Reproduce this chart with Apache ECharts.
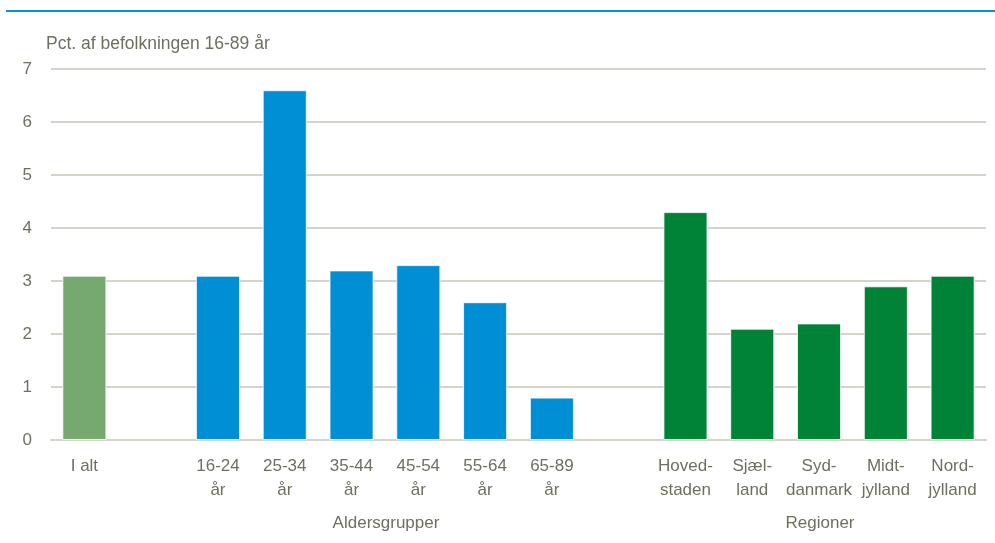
<!DOCTYPE html>
<html>
<head>
<meta charset="utf-8">
<script src="https://cdn.jsdelivr.net/npm/echarts@6/dist/echarts.min.js"></script>
<style>
html,body{margin:0;padding:0;background:#fff;}
#chart{width:995px;height:543px;}
</style>
</head>
<body>
<div id="chart"></div>
<script>
const categories = ['I alt', '', '16-24\når', '25-34\når', '35-44\når', '45-54\når', '55-64\når', '65-89\når', '', 'Hoved-\nstaden', 'Sjæl-\nland', 'Syd-\ndanmark', 'Midt-\njylland', 'Nord-\njylland'];
const values = [3.1, null, 3.1, 6.6, 3.2, 3.3, 2.6, 0.8, null, 4.3, 2.1, 2.2, 2.9, 3.1];
const groups = ['total', null, 'age', 'age', 'age', 'age', 'age', 'age', null, 'region', 'region', 'region', 'region', 'region'];
const groupColors = { total: '#76a96f', age: '#008fd5', region: '#008237' };
const yTicks = [0, 1, 2, 3, 4, 5, 6, 7];
const yTitle = 'Pct. af befolkningen 16-89 år';
const groupTitles = ['Aldersgrupper', 'Regioner'];

const textColor = '#6e6f60';
const font = 'Liberation Sans, Arial, sans-serif';

const chart = echarts.init(document.getElementById('chart'), null, { renderer: 'canvas' });
chart.setOption({
  animation: false,
  grid: { left: 51, right: 9, top: 69, bottom: 103, containLabel: false },
  xAxis: {
    type: 'category',
    data: categories,
    axisLine: { show: true, lineStyle: { color: '#d4d4cb', width: 2 } },
    axisTick: { show: false },
    axisLabel: { color: textColor, fontFamily: font, fontSize: 17, lineHeight: 24, margin: 14, interval: 0 }
  },
  yAxis: {
    type: 'value',
    min: yTicks[0],
    max: yTicks[yTicks.length - 1],
    interval: 1,
    axisLine: { show: false },
    axisTick: { show: false },
    axisLabel: { color: textColor, fontFamily: font, fontSize: 17, margin: 19 },
    splitLine: { lineStyle: { color: '#d4d4cb', width: 2 } }
  },
  series: [{
    type: 'bar',
    barWidth: '66%',
    data: values.map((v, i) => ({
      value: v,
      itemStyle: { color: groups[i] ? groupColors[groups[i]] : 'transparent', borderColor: 'rgba(255,255,255,0.8)', borderWidth: 1 }
    }))
  }],
  graphic: [
    { type: 'rect', shape: { x: 6, y: 10, width: 989, height: 2 }, style: { fill: '#0095d9' } },
    { type: 'text', left: 46, top: 35, style: { text: yTitle, fill: textColor, font: '17.5px ' + font } },
    { type: 'text', x: 386, y: 523, style: { text: groupTitles[0], fill: textColor, font: '17px ' + font, textAlign: 'center', textVerticalAlign: 'middle' } },
    { type: 'text', x: 820, y: 523, style: { text: groupTitles[1], fill: textColor, font: '17px ' + font, textAlign: 'center', textVerticalAlign: 'middle' } }
  ]
});
</script>
</body>
</html>
